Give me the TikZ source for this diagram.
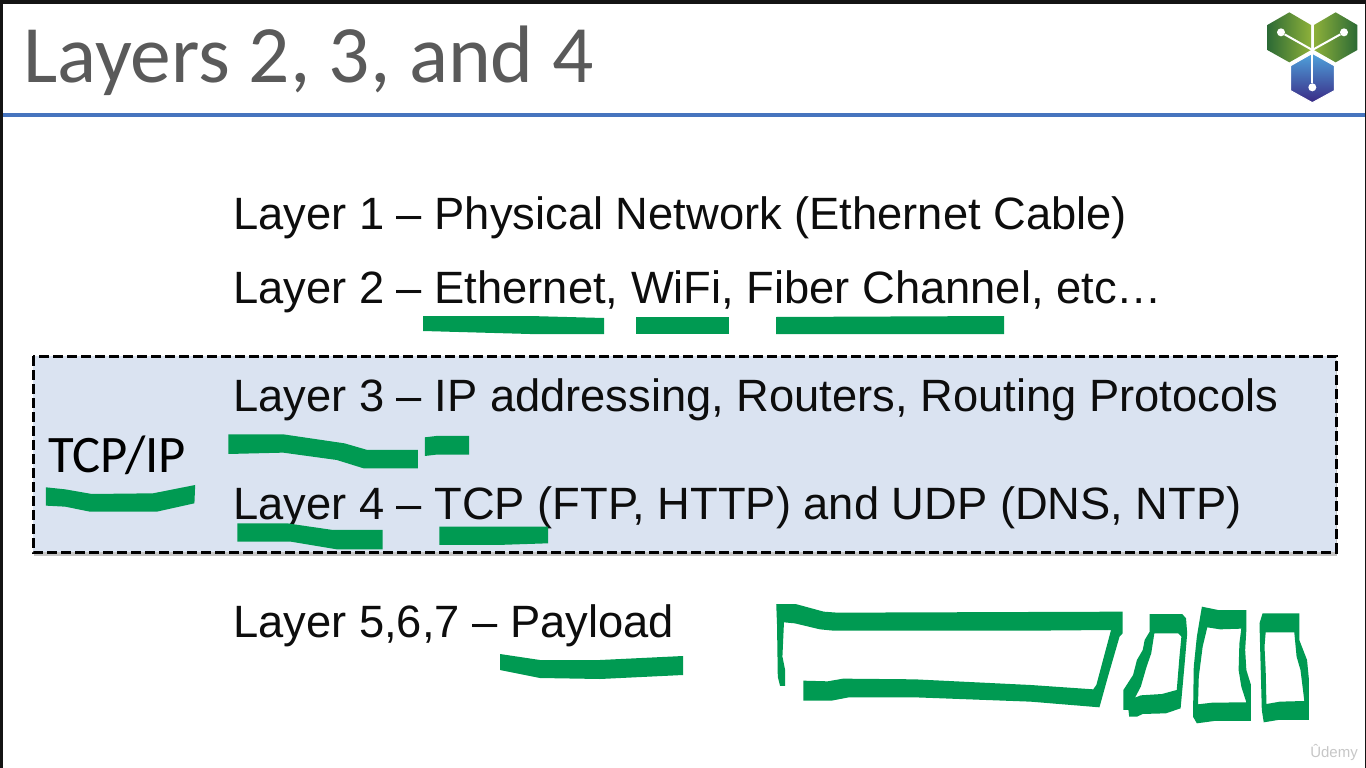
\documentclass[tikz,border=0pt]{standalone}
\usepackage{fontspec}
\setmainfont{Liberation Sans}
\newfontfamily\titlefont{Carlito}
\usetikzlibrary{shadows}
\definecolor{pengreen}{HTML}{009A52}
\definecolor{rulecolor}{HTML}{4674BE}
\definecolor{boxfill}{HTML}{DAE3F1}
\definecolor{titlegray}{HTML}{5A5A5A}
\definecolor{hexdark}{HTML}{2C6A35}
\definecolor{hexlight}{HTML}{8DB03A}
\definecolor{hextop}{HTML}{4FA3DC}
\definecolor{hexbottom}{HTML}{3A2A85}
\begin{document}
\begin{tikzpicture}[x=1pt,y=-1pt,
      line text/.style={anchor=base west,inner sep=0pt,font=\fontsize{45.3}{45.3}\selectfont,text=black!95},
      pen/.style={fill=pengreen,draw=none,even odd rule},
      hex line/.style={white,line width=2pt},
      hex dot/.style={circle,fill=white,inner sep=0pt,minimum size=8pt}]
    \useasboundingbox (0,0) rectangle (1366,768);
    \fill[white] (0,0) rectangle (1366,768);
    % slide edges
    \fill[black!92] (0,0) rectangle (1366,4);
    \fill[black!92] (0,0) rectangle (3,768);
    \fill[black!92] (1365,0) rectangle (1366,768);
    \fill[rulecolor] (3,112.5) rectangle (1365,116.5);

    \node[anchor=base west,inner sep=0pt,font=\titlefont\fontsize{81.5}{81.5}\selectfont,text=titlegray] (title) at (23,83) {Layers 2, 3, and 4};

    % logo
    \begin{scope}[shift={(1240,0)},x=0.3333pt,y=-0.3333pt]
      \shade[left color=hexdark,right color=hexlight] (148,37) -- (213,75) -- (213,150) -- (148,187) -- (82,150) -- (82,75) -- cycle;
      \shade[right color=hexdark,left color=hexlight] (287,37) -- (352,75) -- (352,150) -- (287,187) -- (222,150) -- (222,75) -- cycle;
      \shade[top color=hextop,bottom color=hexbottom,draw=white,line width=1pt] (217,160) -- (283,197) -- (283,272) -- (217,308) -- (152,272) -- (152,197) -- cycle;
      \node[hex dot] (dotl) at (123,97) {};
      \node[hex dot] (dotr) at (312,97) {};
      \node[hex dot] (dotb) at (217,262) {};
      \coordinate (hub) at (217,150);
      \draw[hex line] (dotl) -- (hub);
      \draw[hex line] (dotr) -- (hub);
      \draw[hex line] (dotb) -- (hub);
    \end{scope}

    % dashed box
    \draw[fill=boxfill,line width=3pt,dash pattern=on 10pt off 4pt,
      drop shadow={shadow xshift=1pt,shadow yshift=-4pt,opacity=0.45}] (33,356) rectangle (1336,552);

    \node[line text] (l1) at (233,229) {Layer 1 -- Physical Network (Ethernet Cable)};
    \node[line text] (l2) at (233,303) {Layer 2 -- Ethernet, WiFi, Fiber Channel, etc…};
    \node[line text] (l3) at (233,411) {Layer 3 -- IP addressing, Routers, Routing Protocols};
    \node[line text] (l4) at (233,519) {Layer 4 -- TCP (FTP, HTTP) and UDP (DNS, NTP)};
    \node[line text] (l5) at (233,637) {Layer 5,6,7 -- Payload};
    \node[anchor=base west,inner sep=0pt,font=\titlefont\fontsize{52.7}{52.7}\selectfont,text=black] (tcpip) at (48,472) {TCP/IP};

    % underlines
    \fill[pen] (423,316) -- (530,316) -- (604,318) -- (604,334) -- (530,334) -- (423,331) -- cycle;
    \fill[pen] (636,317) -- (729,317) -- (729,334) -- (636,334) -- cycle;
    \fill[pen] (776,317) -- (1004,316) -- (1004,334) -- (776,334) -- cycle;
    \fill[pen] (500,654) -- (540,660) -- (600,660) -- (683,656) -- (683,675) -- (600,679) -- (540,678) -- (500,670) -- cycle;
    \begin{scope}[shift={(0,340)},x=0.3827pt,y=-0.3333pt]
      \fill[pen] (597,283) -- (740,283) -- (900,310) -- (960,330) -- (1092,330) -- (1092,385) -- (950,385) -- (880,360) -- (740,338) -- (597,342) -- cycle;
      \fill[pen] (1110,292) -- (1140,288) -- (1226,288) -- (1226,344) -- (1140,344) -- (1110,348) -- cycle;
      \fill[pen] (120,442) -- (170,448) -- (240,462) -- (400,460) -- (510,435) -- (508,490) -- (410,515) -- (235,515) -- (170,500) -- (120,497) -- cycle;
      \fill[pen] (620,550) -- (750,550) -- (870,570) -- (1000,570) -- (1000,628) -- (880,628) -- (760,605) -- (620,605) -- cycle;
      \fill[pen] (1148,560) -- (1432,560) -- (1432,610) -- (1300,615) -- (1148,615) -- cycle;
    \end{scope}

    % packet sketch
    \begin{scope}[shift={(760,590)},x=0.3866pt,y=-0.3333pt]
      \fill[pen] (42,42) -- (92,42) -- (165,65) -- (200,68) -- (938,65) -- (938,130) -- (930,140) -- (900,260) -- (878,352) -- (700,335) -- (400,322) -- (230,322) -- (185,332) -- (112,332) -- (112,272) -- (175,274) -- (215,266) -- (400,268) -- (700,285) -- (862,298) -- (870,285) -- (908,120) -- (700,122) -- (190,122) -- (155,118) -- (90,100) -- (62,97) -- (58,200) -- (65,240) -- (65,288) -- (52,288) -- (46,260) -- (44,103) -- cycle;
      \fill[pen] (1008,72) -- (1092,72) -- (1102,85) -- (1105,130) -- (1100,200) -- (1095,265) -- (1088,355) -- (1050,370) -- (990,372) -- (975,380) -- (955,380) -- (953,360) -- (940,360) -- (940,300) -- (965,255) -- (975,210) -- (990,180) -- (995,150) -- (1008,125) -- cycle
        (1020,130) -- (1082,130) -- (1090,140) -- (1085,200) -- (1078,300) -- (1040,312) -- (985,316) -- (970,323) -- (985,290) -- (1000,230) -- (1012,190) -- cycle;
      \fill[pen] (1143,50) -- (1185,60) -- (1258,60) -- (1258,120) -- (1255,180) -- (1258,240) -- (1270,285) -- (1270,393) -- (1175,393) -- (1130,400) -- (1120,380) -- (1122,230) -- (1130,140) -- cycle
        (1157,112) -- (1190,118) -- (1245,116) -- (1240,160) -- (1238,240) -- (1245,290) -- (1258,337) -- (1170,338) -- (1133,343) -- (1135,260) -- (1145,170) -- cycle;
      \fill[pen] (1300,70) -- (1395,70) -- (1395,150) -- (1405,180) -- (1415,210) -- (1420,270) -- (1420,390) -- (1340,390) -- (1303,397) -- (1298,360) -- (1295,230) -- (1292,100) -- cycle
        (1308,127) -- (1382,127) -- (1388,200) -- (1398,240) -- (1408,333) -- (1345,335) -- (1310,342) -- (1308,240) -- (1305,170) -- cycle;
    \end{scope}

    \node[anchor=base,inner sep=0pt,font=\fontsize{15}{15}\selectfont,text=black!22] (mark) at (1334,757) {Ûdemy};
  \end{tikzpicture}
\end{document}
